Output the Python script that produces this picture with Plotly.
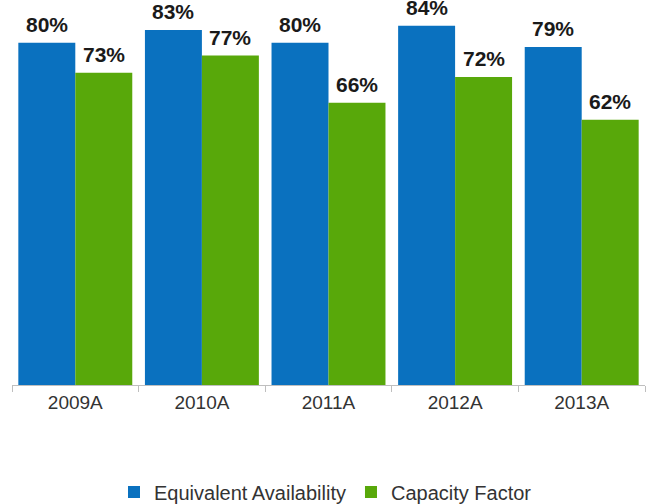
import plotly.graph_objects as go

categories = ["2009A", "2010A", "2011A", "2012A", "2013A"]
equiv_avail = [80, 83, 80, 84, 79]
capacity_factor = [73, 77, 66, 72, 62]

blue = "#0A71BF"
green = "#58A80A"

fig = go.Figure()
fig.add_trace(go.Bar(
    x=categories, y=equiv_avail, name="Equivalent Availability",
    marker=dict(color=blue, line=dict(width=0)),
))
fig.add_trace(go.Bar(
    x=categories, y=capacity_factor, name="Capacity Factor",
    marker=dict(color=green, line=dict(width=0)),
))

W, H = 651, 504
ml, mr, mt, mb = 12, 6, 0, 119
bargap = 0.1
cat_px = (W - ml - mr) / len(categories)
bar_px = cat_px * (1 - bargap) / 2

annotations = []
for series, shift in ((equiv_avail, -bar_px / 2), (capacity_factor, bar_px / 2)):
    for c, v in zip(categories, series):
        annotations.append(dict(
            x=c, y=v, xref="x", yref="y", text=f"{v}%", showarrow=False,
            xanchor="center", yanchor="bottom", xshift=shift, yshift=5,
            font=dict(family="Liberation Sans, Arial", size=21, color="#1a1a1a", weight="bold"),
        ))

fig.update_layout(
    width=W, height=H,
    margin=dict(l=ml, r=mr, t=mt, b=mb, autoexpand=False),
    paper_bgcolor="white", plot_bgcolor="white",
    barmode="group", bargap=bargap, bargroupgap=0,
    font=dict(family="Liberation Sans, Arial", color="#333333"),
    showlegend=True,
    legend=dict(orientation="h", x=0.5, xanchor="center", xref="container",
                y=(H - 492) / H, yanchor="middle", yref="container",
                font=dict(size=20, color="#333333"),
                traceorder="normal"),
    annotations=annotations,
)
fig.update_xaxes(
    showline=True, linecolor="#BFBFBF", linewidth=1,
    ticks="outside", tickson="boundaries", ticklen=6, tickcolor="#BFBFBF",
    tickfont=dict(size=19, color="#333333"), showgrid=False, automargin=False,
)
fig.update_yaxes(range=[0, 90], visible=False, showgrid=False, automargin=False)

fig.write_html("out.html", config={"displayModeBar": False},
               post_script="document.body.style.margin='0';document.body.style.overflow='hidden';")
